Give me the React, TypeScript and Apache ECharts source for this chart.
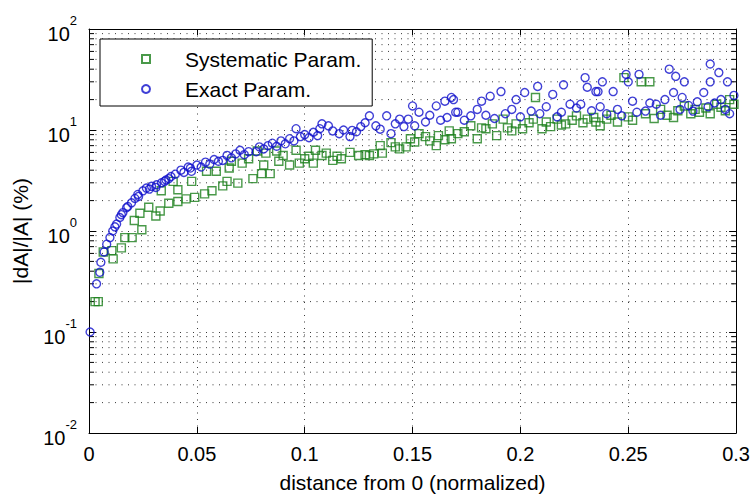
import React, { useEffect, useRef } from "react";
import * as echarts from "echarts";

const seriesNames = ["Systematic Param.", "Exact Param."];
const xTicks = [0, 0.05, 0.1, 0.15, 0.2, 0.25, 0.3];
const yDecades = [0.01, 0.1, 1, 10, 100];
const minorGridValues = [
  0.02, 0.03, 0.04, 0.05, 0.06, 0.07, 0.08, 0.09,
  0.2, 0.3, 0.4, 0.5, 0.6, 0.7, 0.8, 0.9,
  2, 3, 4, 5, 6, 7, 8, 9,
  20, 30, 40, 50, 60, 70, 80, 90,
];

const systematicX = [
  0.0028, 0.0043, 0.0046, 0.0066, 0.0106, 0.0112, 0.015, 0.0166, 0.02, 0.021,
  0.0236, 0.0245, 0.0277, 0.031, 0.033, 0.0335, 0.037, 0.039, 0.0412, 0.0412,
  0.045, 0.0476, 0.049, 0.0536, 0.0545, 0.057, 0.059, 0.062, 0.064, 0.065,
  0.066, 0.069, 0.071, 0.074, 0.076, 0.078, 0.08, 0.081, 0.082, 0.084,
  0.087, 0.088, 0.09, 0.093, 0.096, 0.0975, 0.1, 0.102, 0.104, 0.105,
  0.108, 0.11, 0.113, 0.115, 0.117, 0.121, 0.125, 0.128, 0.13, 0.132,
  0.135, 0.136, 0.14, 0.142, 0.144, 0.147, 0.149, 0.151, 0.153, 0.156,
  0.158, 0.161, 0.162, 0.165, 0.167, 0.168, 0.171, 0.174, 0.177, 0.18,
  0.182, 0.184, 0.187, 0.189, 0.192, 0.194, 0.196, 0.198, 0.201, 0.204,
  0.206, 0.207, 0.21, 0.212, 0.214, 0.217, 0.219, 0.221, 0.224, 0.226,
  0.229, 0.231, 0.234, 0.235, 0.237, 0.24, 0.242, 0.245, 0.248, 0.25,
  0.252, 0.256, 0.258, 0.26, 0.262, 0.265, 0.268, 0.271, 0.273, 0.276,
  0.279, 0.281, 0.283, 0.286, 0.288, 0.291, 0.293, 0.295, 0.297, 0.299,
];
const systematicY = [
  0.2, 0.2, 0.38, 0.62, 0.64, 0.53, 0.68, 0.86, 0.86, 1.27,
  1.5, 1.03, 1.72, 1.41, 1.58, 2.5, 1.88, 3.1, 1.96, 2.56,
  2.08, 3.1, 2.15, 2.33, 3.9, 2.5, 3.9, 2.8, 3.1, 4.2,
  4.9, 2.98, 4.7, 5.2, 3.3, 6.2, 3.7, 4.5, 5.9, 3.7,
  6.2, 4.9, 5.6, 4.5, 6.3, 4.7, 5.2, 5.5, 4.7, 6.3,
  5.6, 5.9, 5.0, 5.5, 5.2, 6.0, 5.6, 5.7, 5.6, 5.8,
  7.0, 5.9, 7.5, 6.8, 6.5, 6.8, 8.2, 7.6, 9.2, 8.6,
  7.8, 7.0, 8.8, 8.0, 9.8, 8.2, 9.2, 9.6, 11, 8.2,
  10.5, 10.3, 11.5, 8.8, 12.8, 10.5, 9.8, 11.5, 10.3, 11.8,
  12.8, 21, 10.3, 12, 10.8, 12.8, 11.2, 11.5, 12.5, 13.8,
  11.8, 12.8, 13.3, 12, 11, 12.8, 14, 12, 33, 13.5,
  12.5, 30, 14.5, 30, 13, 16, 14, 13.3, 15.5, 17.3,
  14.5, 16, 15, 16.5, 14.5, 18, 16.8, 15.5, 20, 18,
];

const exactX = [
  0.0005, 0.0035, 0.005, 0.0055, 0.007, 0.0082, 0.0097, 0.011, 0.012, 0.0128,
  0.0143, 0.015, 0.0157, 0.0174, 0.018, 0.0197, 0.0213, 0.0226, 0.023, 0.025,
  0.0266, 0.028, 0.029, 0.031, 0.0313, 0.0336, 0.035, 0.0357, 0.037, 0.038,
  0.04, 0.0426, 0.044, 0.046, 0.0475, 0.047, 0.05, 0.052, 0.054, 0.056,
  0.058, 0.06, 0.062, 0.064, 0.066, 0.068, 0.07, 0.072, 0.074, 0.0775,
  0.079, 0.081, 0.083, 0.085, 0.087, 0.089, 0.091, 0.093, 0.095, 0.096,
  0.098, 0.1, 0.102, 0.104, 0.106, 0.108, 0.107, 0.111, 0.113, 0.116,
  0.118, 0.121, 0.122, 0.124, 0.126, 0.128, 0.13, 0.133, 0.135, 0.138,
  0.14, 0.142, 0.144, 0.146, 0.148, 0.15, 0.151, 0.153, 0.156, 0.158,
  0.161, 0.163, 0.165, 0.166, 0.168, 0.17, 0.169, 0.171, 0.174, 0.177,
  0.18, 0.182, 0.184, 0.186, 0.188, 0.191, 0.193, 0.196, 0.198, 0.2,
  0.202, 0.205, 0.208, 0.209, 0.212, 0.215, 0.217, 0.219, 0.22, 0.223,
  0.226, 0.228, 0.23, 0.231, 0.233, 0.235, 0.236, 0.237, 0.238, 0.24,
  0.243, 0.245, 0.247, 0.249, 0.25, 0.252, 0.254, 0.255, 0.258, 0.26,
  0.263, 0.265, 0.267, 0.269, 0.271, 0.272, 0.274, 0.275, 0.276, 0.278,
  0.28, 0.282, 0.285, 0.287, 0.288, 0.288, 0.29, 0.292, 0.293, 0.295,
  0.296, 0.297, 0.299,
];
const exactY = [
  0.1, 0.3, 0.39, 0.49, 0.62, 0.74, 0.86, 1.0, 1.1, 1.17,
  1.36, 1.45, 1.52, 1.7, 1.75, 1.9, 2.1, 2.3, 2.2, 2.5,
  2.66, 2.6, 2.77, 2.7, 2.87, 3.0, 3.1, 3.2, 3.3, 3.46,
  3.65, 4.0, 3.8, 4.3, 3.9, 4.2, 4.5, 4.3, 4.8, 4.6,
  5.1, 4.9, 5.0, 5.6, 5.3, 5.8, 6.3, 5.7, 6.1, 6.1,
  6.8, 6.5, 7.0, 7.4, 6.9, 7.8, 7.3, 8.2, 7.8, 10.3,
  8.6, 9.0, 8.4, 9.5, 8.8, 11.5, 10.3, 11.0, 9.8, 9.2,
  10.0, 8.6, 9.9, 9.6, 10.8, 11.8, 13.8, 11.0, 10.2, 13.8,
  9.2, 11.5, 12.8, 10.8, 12.8, 17.3, 11.0, 15.0, 12.0, 14.0,
  17.3, 12.5, 19.3, 13.3, 21.0, 15.0, 20, 15, 12.5, 13.8,
  16, 19.3, 14, 21.6, 13, 24, 14.5, 16, 20, 13.5,
  23.5, 15.4, 27, 14.5, 17, 22.5, 13.5, 15, 28, 18,
  16.5, 18, 33, 26.5, 15.5, 24, 24, 17, 30, 14.5,
  24, 16, 13.8, 35.5, 30, 19.3, 15, 35.5, 15.4, 18.5,
  18, 14, 20, 40, 23.5, 34, 16, 21, 30, 17.5,
  15.4, 19, 23.5, 17, 45, 30, 18.5, 37, 20, 16,
  30, 14.5, 22,
];

const GREEN = "#1b7f1b";
const BLUE = "#1010cc";
const FONT = "Liberation Sans, Arial, sans-serif";

export default function App() {
  const ref = useRef<HTMLDivElement>(null);
  useEffect(() => {
    if (!ref.current) return;
    const chart = echarts.init(ref.current, null, { renderer: "svg" });
    const sysData = systematicX.map((x, i) => [x, systematicY[i]]);
    const exData = exactX.map((x, i) => [x, exactY[i]]);
    const dotted = { color: "#3a3a3a", width: 1, type: [1, 5.5] as any };
    const supFmt = (v: number) => {
      const e = Math.round(Math.log10(v));
      return `{b|10}{s|${e}}`;
    };
    const option: any = {
      animation: false,
      backgroundColor: "#ffffff",
      textStyle: { fontFamily: FONT },
      grid: { left: 89, right: 15, top: 29, bottom: 60, containLabel: false },
      legend: {
        left: 100,
        top: 39,
        orient: "vertical",
        data: seriesNames,
        backgroundColor: "#ffffff",
        borderColor: "#000000",
        borderWidth: 1,
        borderRadius: 0,
        padding: [8, 11, 5, 41],
        itemGap: 6,
        itemWidth: 8,
        itemHeight: 8,
        textStyle: {
          fontSize: 21,
          fontFamily: FONT,
          color: "#000",
          lineHeight: 24,
          padding: [0, 0, 0, 30],
        },
      },
      xAxis: [
        {
          type: "value",
          min: 0,
          max: 0.3,
          interval: 0.05,
          position: "bottom",
          name: "distance from 0 (normalized)",
          nameLocation: "middle",
          nameGap: 39,
          nameTextStyle: { fontSize: 21, color: "#000", fontFamily: FONT },
          axisLine: { show: true, onZero: false, lineStyle: { color: "#000", width: 1 } },
          axisTick: { show: true, inside: true, length: 6, lineStyle: { color: "#000" } },
          axisLabel: { fontSize: 20, color: "#000", margin: 11, fontFamily: FONT },
          splitLine: { show: true, lineStyle: dotted },
        },
        {
          type: "value",
          min: 0,
          max: 0.3,
          interval: 0.05,
          position: "top",
          axisLine: { show: true, onZero: false, lineStyle: { color: "#000", width: 1 } },
          axisTick: { show: true, inside: true, length: 6, lineStyle: { color: "#000" } },
          axisLabel: { show: false },
          splitLine: { show: false },
        },
      ],
      yAxis: [
        {
          type: "log",
          logBase: 10,
          min: 0.01,
          max: 100,
          position: "left",
          name: "|dA|/|A| (%)",
          nameLocation: "middle",
          nameGap: 58,
          nameRotate: 90,
          nameTextStyle: { fontSize: 21, color: "#000", fontFamily: FONT },
          axisLine: { show: true, onZero: false, lineStyle: { color: "#000", width: 1 } },
          axisTick: { show: true, inside: true, length: 7, lineStyle: { color: "#000" } },
          axisLabel: {
            formatter: supFmt,
            margin: 12,
            color: "#000",
            rich: {
              b: { fontSize: 20, fontFamily: FONT, color: "#000", lineHeight: 30, verticalAlign: "bottom" },
              s: { fontSize: 13, fontFamily: FONT, color: "#000", lineHeight: 30, verticalAlign: "top" },
            },
          },
          splitLine: { show: true, lineStyle: dotted },
        },
        {
          type: "log",
          logBase: 10,
          min: 0.01,
          max: 100,
          position: "right",
          axisLine: { show: true, onZero: false, lineStyle: { color: "#000", width: 1 } },
          axisTick: { show: true, inside: true, length: 7, lineStyle: { color: "#000" } },
          axisLabel: { show: false },
          splitLine: { show: false },
        },
      ],
      series: [
        {
          type: "custom",
          name: "minorGrid",
          silent: true,
          xAxisIndex: 0,
          yAxisIndex: 0,
          z: 1,
          data: minorGridValues.map((v) => [xTicks[0], v]),
          encode: { x: 0, y: 1 },
          renderItem: (params: any, api: any) => {
            const v = api.value(1);
            const p1 = api.coord([xTicks[0], v]);
            const p2 = api.coord([xTicks[xTicks.length - 1], v]);
            return {
              type: "group",
              children: [
                {
                  type: "line",
                  shape: { x1: p1[0], y1: p1[1], x2: p2[0], y2: p2[1] },
                  style: { stroke: "#3a3a3a", lineWidth: 1, lineDash: [1, 5.5] },
                },
                {
                  type: "line",
                  shape: { x1: p1[0], y1: p1[1], x2: p1[0] + 5, y2: p1[1] },
                  style: { stroke: "#000", lineWidth: 1 },
                },
                {
                  type: "line",
                  shape: { x1: p2[0], y1: p2[1], x2: p2[0] - 5, y2: p2[1] },
                  style: { stroke: "#000", lineWidth: 1 },
                },
              ],
            };
          },
        },
        {
          type: "scatter",
          name: seriesNames[0],
          data: sysData,
          symbol: "rect",
          symbolSize: 8,
          z: 3,
          itemStyle: { color: "rgba(0,0,0,0)", borderColor: GREEN, borderWidth: 1.4 },
        },
        {
          type: "scatter",
          name: seriesNames[1],
          data: exData,
          symbol: "circle",
          symbolSize: 8,
          z: 4,
          itemStyle: { color: "rgba(0,0,0,0)", borderColor: BLUE, borderWidth: 1.4 },
        },
      ],
    };
    chart.setOption(option);
    return () => chart.dispose();
  }, []);
  return (
    <div
      ref={ref}
      style={{ position: "fixed", left: 0, top: 0, width: 753, height: 498, background: "#fff" }}
    />
  );
}
